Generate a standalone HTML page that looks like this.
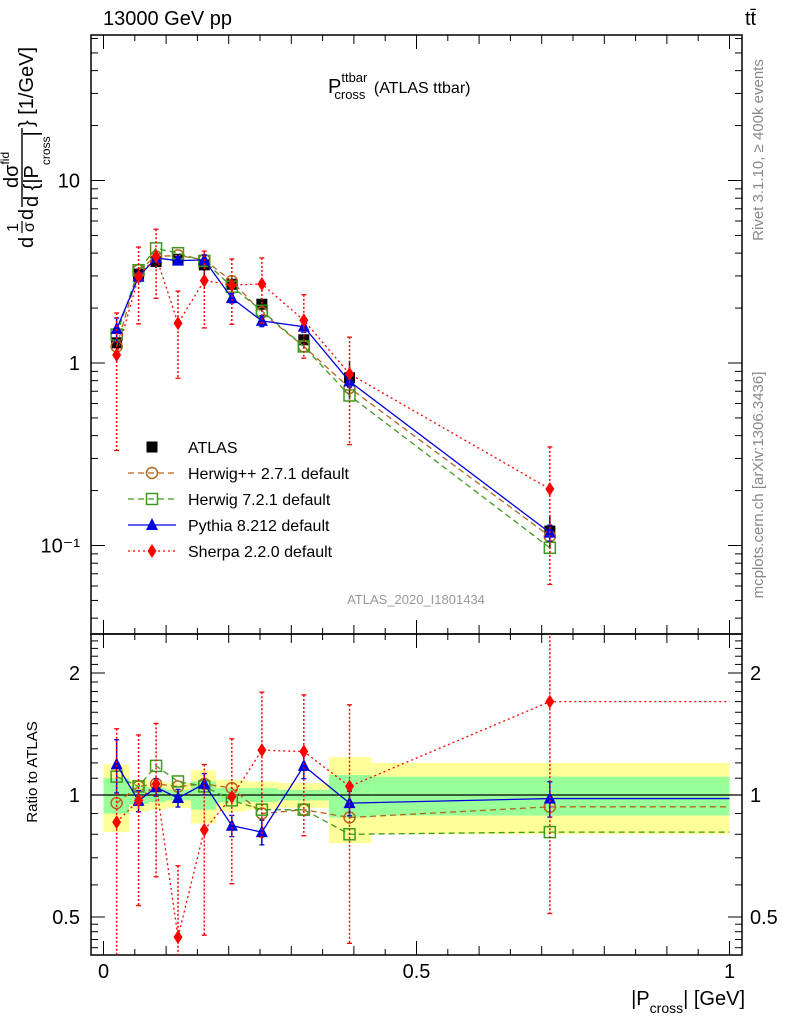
<!DOCTYPE html>
<html><head><meta charset="utf-8"><style>
body{margin:0;background:#fff;}
svg text{font-family:"Liberation Sans",sans-serif;}
</style></head><body>
<svg id="c" width="786" height="1024" xmlns="http://www.w3.org/2000/svg"></svg>
<script>
const binEdges=[0,0.041,0.072,0.1,0.14,0.18,0.229,0.279,0.36,0.428,1.0];
const binCenters=[0.021,0.056,0.084,0.119,0.161,0.205,0.253,0.320,0.393,0.713];
const atlasValues=[1.29,3.07,3.6,3.7,3.45,2.7,2.1,1.34,0.83,0.12];
const bandTotal=[0.19,0.09,0.08,0.07,0.15,0.09,0.08,0.07,0.24,0.2];
const bandStat=[0.10,0.05,0.04,0.03,0.08,0.04,0.04,0.03,0.12,0.11];
const herwigppRatio=[0.955,1.05,1.065,1.05,1.065,1.04,0.90,0.92,0.88,0.935];
const herwig7Ratio=[1.11,1.05,1.18,1.08,1.05,0.97,0.92,0.92,0.80,0.81];
const pythiaRatio=[1.19,0.967,1.045,0.983,1.065,0.84,0.81,1.18,0.955,0.98];
const pythiaErr=[0.15,0.06,0.05,0.05,0.06,0.06,0.07,0.07,0.07,0.1];
const sherpaRatio=[0.857,0.97,1.065,0.446,0.82,0.99,1.29,1.28,1.05,1.70];
const sherpaErr=[0.7,0.45,0.41,0.5,0.45,0.39,0.39,0.38,0.59,0.7];
const xTickLabels=["0","0.5","1"];
const yTickLabels=["10⁻¹","1","10"];
const ratioTickLabels=["0.5","1","2"];

const NS="http://www.w3.org/2000/svg";
const svg=document.getElementById('c');
function el(t,a,p){const e=document.createElementNS(NS,t);for(const k in a)e.setAttribute(k,a[k]);(p||svg).appendChild(e);return e;}
function txt(s,a,p){const e=el('text',a,p);e.textContent=s;return e;}
const X0=91,X1=742,Y0=35,YM=634,Y1=955;
const sx=v=>103.5+v*626;
const sy=v=>363-Math.log10(v)*182.5;
const sr=v=>795-Math.log10(v)*405.3;

const defs=el('defs',{});
const c1=el('clipPath',{id:'cm'},defs);el('rect',{x:X0,y:Y0,width:X1-X0,height:YM-Y0},c1);
const c2=el('clipPath',{id:'cr'},defs);el('rect',{x:X0,y:YM,width:X1-X0,height:Y1-YM},c2);

const gBand=el('g',{'clip-path':'url(#cr)'});


for(let i=0;i<binCenters.length;i++){
  const x=sx(binEdges[i]),w=sx(binEdges[i+1])-x;
  const r=el('rect',{x:x,y:sr(1+bandTotal[i]),width:w,height:sr(1-bandTotal[i])-sr(1+bandTotal[i]),fill:'#ffff99'},gBand);
  
  
  const g=el('rect',{x:x,y:sr(1+bandStat[i]),width:w,height:sr(1-bandStat[i])-sr(1+bandStat[i]),fill:'#99ff99'},gBand);
  
  
}
el('line',{x1:X0,x2:X1,y1:sr(1),y2:sr(1),stroke:'#000','stroke-width':1.2},gBand);

el('rect',{x:X0,y:Y0,width:X1-X0,height:YM-Y0,fill:'none',stroke:'#000','stroke-width':1.5});
el('rect',{x:X0,y:YM,width:X1-X0,height:Y1-YM,fill:'none',stroke:'#000','stroke-width':1.5});

const gAx=el('g',{stroke:'#000','stroke-width':1});
for(let d=-2;d<=1;d++)for(let m=1;m<10;m++){
  const v=m*Math.pow(10,d);const y=sy(v);if(y<Y0||y>YM)continue;
  const L=m==1?14:7;
  el('line',{x1:X0,x2:X0+L,y1:y,y2:y},gAx);el('line',{x1:X1,x2:X1-L,y1:y,y2:y},gAx);
}
const yTickVals=[0.1,1,10];
yTickVals.forEach((v,i)=>{const t=txt(yTickLabels[i],{x:80,y:sy(v)+7,'font-size':20,'text-anchor':'end'});
});
[0.42,0.44,0.46,0.48,0.5,0.6,0.7,0.8,0.9,1,1.1,1.2,1.3,1.4,1.5,1.6,1.7,1.8,1.9,2,2.1,2.2,2.3,2.4].forEach(v=>{const y=sr(v);const L=(v==0.5||v==1||v==2)?14:7;
 el('line',{x1:X0,x2:X0+L,y1:y,y2:y},gAx);el('line',{x1:X1,x2:X1-L,y1:y,y2:y},gAx);});
[0.5,1,2].forEach((v,i)=>{
 const a=txt(ratioTickLabels[i],{x:80,y:sr(v)+7,'font-size':20,'text-anchor':'end'});
 
 const b=txt(ratioTickLabels[i],{x:750,y:sr(v)+7,'font-size':20,'text-anchor':'start'});
 });
for(let k=0;k<=20;k++){const v=k*0.05;const x=sx(v);const L=(k%10==0)?14:(k%2==0?9:6);
 el('line',{x1:x,x2:x,y1:Y1,y2:Y1-L},gAx);el('line',{x1:x,x2:x,y1:YM,y2:YM-L},gAx);el('line',{x1:x,x2:x,y1:YM,y2:YM+L},gAx);el('line',{x1:x,x2:x,y1:Y0,y2:Y0+L},gAx);}
[0,0.5,1].forEach((v,i)=>{const t=txt(xTickLabels[i],{x:sx(v),y:978,'font-size':20,'text-anchor':'middle'});
 });

const series=[
 {name:'herwigpp',ratio:herwigppRatio,color:'#b5651d',dash:'6,4',m:'circle'},
 {name:'herwig7',ratio:herwig7Ratio,color:'#3d9a1f',dash:'6,4',m:'osquare'},
 {name:'pythia',ratio:pythiaRatio,color:'#0000dd',dash:'',m:'tri',err:pythiaErr},
 {name:'sherpa',ratio:sherpaRatio,color:'#ff0000',dash:'2,3',m:'diamond',err:sherpaErr},
];
function marker(m,x,y,c,p){
 if(m=='circle')return el('circle',{cx:x,cy:y,r:5.5,fill:'none',stroke:c,'stroke-width':1.5},p);
 if(m=='osquare')return el('rect',{x:x-5.5,y:y-5.5,width:11,height:11,fill:'none',stroke:c,'stroke-width':1.5},p);
 if(m=='tri')return el('polygon',{points:`${x},${y-7} ${x-6},${y+5} ${x+6},${y+5}`,fill:c},p);
 if(m=='diamond')return el('polygon',{points:`${x},${y-7} ${x-4.5},${y} ${x},${y+7} ${x+4.5},${y}`,fill:c},p);
 if(m=='fsquare')return el('rect',{x:x-5.5,y:y-5.5,width:11,height:11,fill:c},p);
}
const gA=el('g',{'clip-path':'url(#cm)'});


atlasValues.forEach((v,i)=>{const x=sx(binCenters[i]),y=sy(v);
 el('line',{x1:x,x2:x,y1:sy(v*(1+bandTotal[i])),y2:sy(v*(1-bandTotal[i])),stroke:'#000','stroke-width':1.5},gA);
 const mk=marker('fsquare',x,y,'#000',gA);});

series.forEach(s=>{
 const gm=el('g',{'clip-path':'url(#cm)'});
 
 
 const gr=el('g',{'clip-path':'url(#cr)'});
 
 
 const pm=[],pr=[];
 s.ratio.forEach((r,i)=>{pm.push(sx(binCenters[i])+','+sy(r*atlasValues[i]));pr.push(sx(binCenters[i])+','+sr(r));});
 pr.push(sx(1)+','+sr(s.ratio[s.ratio.length-1]));
 el('polyline',{points:pm.join(' '),fill:'none',stroke:s.color,'stroke-width':1.3,'stroke-dasharray':s.dash},gm);
 el('polyline',{points:pr.join(' '),fill:'none',stroke:s.color,'stroke-width':1.3,'stroke-dasharray':s.dash},gr);
 s.ratio.forEach((r,i)=>{
  const x=sx(binCenters[i]);const v=r*atlasValues[i];
  if(s.err){const e=s.err[i];const lo=Math.max(1-e,0.01);
   const da=s.m=='diamond'?'2,2':'';
   el('line',{x1:x,x2:x,y1:sy(v*(1+e)),y2:sy(v*lo),stroke:s.color,'stroke-width':1.5,'stroke-dasharray':da},gm);
   el('line',{x1:x,x2:x,y1:sr(r*(1+e)),y2:sr(r*lo),stroke:s.color,'stroke-width':1.5,'stroke-dasharray':da},gr);
   [[sy(v*(1+e)),gm],[sy(v*lo),gm],[sr(r*(1+e)),gr],[sr(r*lo),gr]].forEach(q=>el('line',{x1:x-2.5,x2:x+2.5,y1:q[0],y2:q[0],stroke:s.color,'stroke-width':1.3},q[1]));}
  const a=marker(s.m,x,sy(v),s.color,gm);
  const b=marker(s.m,x,sr(r),s.color,gr);
 });
});

const leg=[['ATLAS','#000','','fsquare'],['Herwig++ 2.7.1 default','#b5651d','6,4','circle'],['Herwig 7.2.1 default','#3d9a1f','6,4','osquare'],['Pythia 8.212 default','#0000dd','','tri'],['Sherpa 2.2.0 default','#ff0000','2,3','diamond']];
const gL=el('g',{});
leg.forEach((l,i)=>{const y=447+i*26;const g=el('g',{},gL);
 
 if(i>0)el('line',{x1:128,x2:176,y1:y,y2:y,stroke:l[1],'stroke-width':1.3,'stroke-dasharray':l[2]},g);
 marker(l[3],152,y,l[1],g);txt(l[0],{x:188,y:y+6,'font-size':16},g);});

const T=(s,a,n,p)=>{const t=txt(s,a,p);return t;};
T('13000 GeV pp',{x:103,y:25,'font-size':20},'energy-label');
T('tt̄',{x:745,y:25,'font-size':20},'process-label');
const tt=T('',{x:328,y:93,'font-size':20},'plot-title');
tt.innerHTML='P<tspan font-size="13" dy="-11">ttbar</tspan><tspan font-size="13" dx="-33" dy="17">cross</tspan><tspan dy="-6" dx="4" font-size="16"> (ATLAS ttbar)</tspan>';
T('ATLAS_2020_I1801434',{x:416,y:604,'font-size':13,fill:'#999','text-anchor':'middle'},'analysis-id');
T('Rivet 3.1.10, ≥ 400k events',{x:0,y:0,'font-size':15,fill:'#888','text-anchor':'middle',transform:'translate(763,150) rotate(-90)'},'rivet-label');
T('mcplots.cern.ch [arXiv:1306.3436]',{x:0,y:0,'font-size':15,fill:'#888','text-anchor':'middle',transform:'translate(763,485) rotate(-90)'},'mcplots-label');
T('Ratio to ATLAS',{x:0,y:0,'font-size':15,'text-anchor':'middle',transform:'translate(37,772) rotate(-90)'},'ratio-axis-title');
// y axis title
const gy=el('g',{transform:'translate(22,250) rotate(-90)'});


txt('d',{x:2,y:11,'font-size':20},gy);
txt('1',{x:18,y:-4,'font-size':16},gy);
el('line',{x1:17,x2:29,y1:0,y2:0,stroke:'#000','stroke-width':1.2},gy);
txt('σ',{x:18,y:12,'font-size':16},gy);
txt('d',{x:30,y:11,'font-size':20},gy);
const num=txt('',{x:62,y:-4,'font-size':20},gy);num.innerHTML='dσ<tspan font-size="12" dy="-9">fid</tspan>';
el('line',{x1:43,x2:122,y1:0,y2:0,stroke:'#000','stroke-width':1.4},gy);
const den=txt('',{x:43,y:16,'font-size':20},gy);den.innerHTML='d {|P<tspan font-size="12" dy="12">cross</tspan><tspan dy="-12">|</tspan>';
txt('} [1/GeV]',{x:123,y:11,'font-size':20},gy);
const xt=T('',{x:745,y:1005,'font-size':20,'text-anchor':'end'},'x-axis-title');
xt.innerHTML='|P<tspan font-size="14" dy="8">cross</tspan><tspan dy="-8">| [GeV]</tspan>';
</script>
</body></html>
